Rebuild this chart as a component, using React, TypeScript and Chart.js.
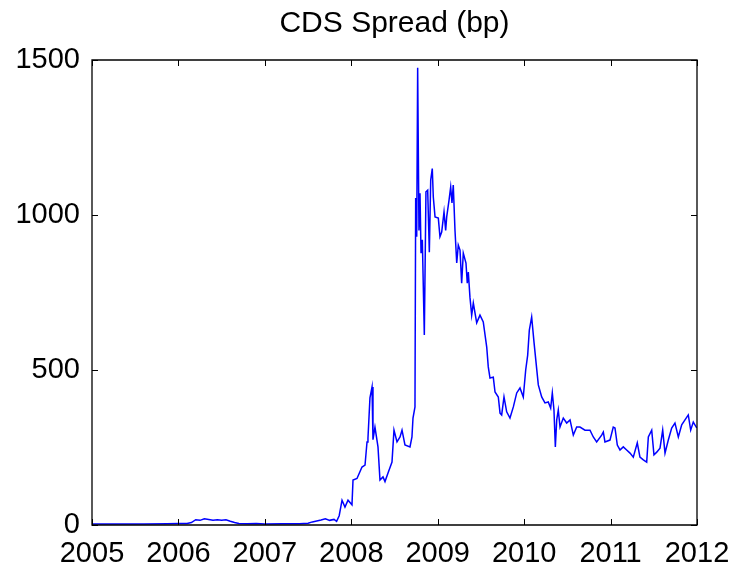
import React, { useEffect, useRef } from "react";
import { Chart, registerables } from "chart.js";

Chart.register(...registerables);

const chartTitle = "CDS Spread (bp)";
const xTicks = [2005, 2006, 2007, 2008, 2009, 2010, 2011, 2012];
const yTicks = [0, 500, 1000, 1500];

// decimal year of each observation
const years = [
  2005.0, 2005.3, 2005.6, 2005.87, 2006.0, 2006.1, 2006.15, 2006.2, 2006.25, 2006.3,
  2006.35, 2006.4, 2006.45, 2006.5, 2006.55, 2006.6, 2006.65, 2006.7, 2006.8, 2006.9,
  2007.0, 2007.2, 2007.4, 2007.5, 2007.55, 2007.6, 2007.65, 2007.7, 2007.75, 2007.8,
  2007.83, 2007.86, 2007.893, 2007.927, 2007.962, 2008.008, 2008.02, 2008.066, 2008.124, 2008.159,
  2008.182, 2008.193, 2008.216, 2008.24, 2008.251, 2008.274, 2008.309, 2008.332, 2008.367, 2008.39,
  2008.425, 2008.471, 2008.494, 2008.529, 2008.564, 2008.587, 2008.621, 2008.679, 2008.702, 2008.714,
  2008.737, 2008.745, 2008.757, 2008.768, 2008.783, 2008.795, 2008.807, 2008.822, 2008.845, 2008.864,
  2008.884, 2008.903, 2008.919, 2008.937, 2008.949, 2008.969, 2009.007, 2009.026, 2009.046, 2009.073,
  2009.092, 2009.104, 2009.131, 2009.15, 2009.165, 2009.18, 2009.2, 2009.22, 2009.238, 2009.258,
  2009.277, 2009.296, 2009.327, 2009.342, 2009.354, 2009.373, 2009.393, 2009.412, 2009.451, 2009.489,
  2009.527, 2009.567, 2009.585, 2009.605, 2009.643, 2009.663, 2009.701, 2009.721, 2009.74, 2009.767,
  2009.798, 2009.836, 2009.875, 2009.914, 2009.952, 2009.99, 2010.018, 2010.041, 2010.06, 2010.087,
  2010.114, 2010.137, 2010.164, 2010.203, 2010.241, 2010.279, 2010.307, 2010.326, 2010.345, 2010.361,
  2010.377, 2010.395, 2010.415, 2010.453, 2010.492, 2010.531, 2010.569, 2010.608, 2010.646, 2010.704,
  2010.762, 2010.8, 2010.839, 2010.897, 2010.916, 2010.935, 2010.993, 2011.031, 2011.051, 2011.078,
  2011.109, 2011.147, 2011.186, 2011.225, 2011.263, 2011.309, 2011.34, 2011.379, 2011.418, 2011.437,
  2011.476, 2011.502, 2011.534, 2011.572, 2011.603, 2011.63, 2011.668, 2011.707, 2011.745, 2011.784,
  2011.823, 2011.861, 2011.899, 2011.927, 2011.957, 2011.997,
];

// CDS spread in basis points
const spreads = [
  3, 3, 3, 4, 5, 5, 8, 17, 15, 20,
  18, 15, 17, 15, 17, 12, 8, 5, 4, 5,
  3, 4, 4, 6, 10, 13, 16, 20, 15, 18,
  12, 30, 80, 58, 80, 65, 145, 150, 187, 193,
  268, 280, 410, 445, 275, 316, 252, 145, 155, 140,
  168, 203, 306, 268, 284, 306, 258, 252, 284, 345,
  381, 1055, 930, 1475, 950, 1070, 877, 920, 613, 1075,
  1080, 880, 1113, 1150, 1058, 994, 990, 930, 945, 1010,
  950, 994, 1048, 1090, 1039, 1097, 950, 845, 903, 887,
  780, 877, 845, 780, 816, 735, 677, 716, 652, 677,
  655, 574, 510, 474, 477, 429, 413, 361, 355, 413,
  365, 345, 381, 426, 442, 413, 500, 548, 629, 671,
  590, 526, 452, 413, 394, 397, 377, 426, 371, 252,
  339, 371, 316, 345, 329, 339, 290, 316, 316, 306,
  306, 284, 268, 290, 300, 268, 274, 316, 313, 258,
  242, 252, 242, 232, 219, 265, 219, 210, 203, 284,
  306, 226, 235, 248, 306, 232, 274, 313, 329, 284,
  323, 339, 355, 306, 332, 313,
];

const FONT = "'Liberation Sans', Arial, Helvetica, sans-serif";

const framePlugin = {
  id: "matlabFrame",
  afterDatasetsDraw(chart: any) {
    const { ctx, chartArea, scales } = chart;
    const { left, right, top, bottom } = chartArea;
    const tl = 6;
    ctx.save();
    ctx.strokeStyle = "#000";
    ctx.lineWidth = 1.3;
    ctx.beginPath();
    ctx.rect(left, top, right - left, bottom - top);
    ctx.stroke();
    ctx.lineWidth = 1;
    ctx.beginPath();
    for (const v of xTicks) {
      const px = Math.round(scales.x.getPixelForValue(v)) + 0.5;
      ctx.moveTo(px, bottom);
      ctx.lineTo(px, bottom - tl);
      ctx.moveTo(px, top);
      ctx.lineTo(px, top + tl);
    }
    for (const v of yTicks) {
      const py = Math.round(scales.y.getPixelForValue(v)) + 0.5;
      ctx.moveTo(left, py);
      ctx.lineTo(left + tl, py);
      ctx.moveTo(right, py);
      ctx.lineTo(right - tl, py);
    }
    ctx.stroke();
    // title centred over the plot area
    ctx.fillStyle = "#000";
    ctx.font = `30px ${FONT}`;
    ctx.textAlign = "center";
    ctx.textBaseline = "alphabetic";
    ctx.fillText(chartTitle, (left + right) / 2, 32);
    ctx.restore();
  },
};

export default function App() {
  const ref = useRef<HTMLCanvasElement | null>(null);

  useEffect(() => {
    if (!ref.current) return;
    const points = years.map((x, i) => ({ x, y: spreads[i] }));
    const chart = new Chart(ref.current, {
      type: "line",
      data: {
        datasets: [
          {
            data: points,
            borderColor: "#0000ff",
            borderWidth: 1.5,
            pointRadius: 0,
            tension: 0,
            fill: false,
          },
        ],
      },
      options: {
        animation: false,
        responsive: false,
        maintainAspectRatio: false,
        layout: { padding: { left: 0, right: 41, top: 60, bottom: 0 } },
        plugins: {
          legend: { display: false },
          tooltip: { enabled: false },
          title: { display: false },
        },
        scales: {
          x: {
            type: "linear",
            min: 2005,
            max: 2012,
            grid: { display: false, drawTicks: false },
            border: { display: false },
            afterBuildTicks: (scale: any) => {
              scale.ticks = xTicks.map((v) => ({ value: v }));
            },
            afterFit: (scale: any) => {
              scale.height = 44;
              scale.paddingLeft = 0;
              scale.paddingRight = 0;
            },
            ticks: {
              color: "#000",
              padding: 12,
              maxRotation: 0,
              autoSkip: false,
              font: { family: FONT, size: 29 },
              callback: (v: any) => String(v),
            },
          },
          y: {
            type: "linear",
            min: 0,
            max: 1500,
            grid: { display: false, drawTicks: false },
            border: { display: false },
            afterBuildTicks: (scale: any) => {
              scale.ticks = yTicks.map((v) => ({ value: v }));
            },
            afterFit: (scale: any) => {
              scale.width = 92;
              scale.paddingTop = 0;
              scale.paddingBottom = 0;
            },
            ticks: {
              color: "#000",
              padding: 12,
              autoSkip: false,
              font: { family: FONT, size: 29 },
              callback: (v: any) => String(v),
            },
          },
        },
      },
      plugins: [framePlugin],
    });
    return () => chart.destroy();
  }, []);

  return (
    <div style={{ position: "absolute", left: 0, top: 0, width: 738, height: 569, background: "#fff" }}>
      <canvas ref={ref} width={738} height={569} style={{ display: "block" }} />
    </div>
  );
}
